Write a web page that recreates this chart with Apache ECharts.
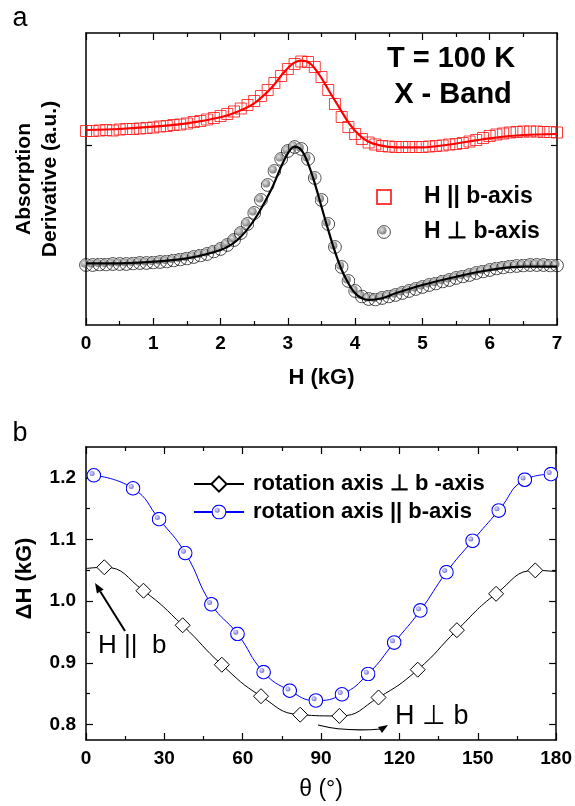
<!doctype html>
<html>
<head>
<meta charset="UTF-8">
<title>ESR spectra and linewidth</title>
<script src="https://cdn.jsdelivr.net/npm/echarts@6/dist/echarts.min.js"></script>
<style>
html, body { margin: 0; padding: 0; background: #fff; }
#main { width: 575px; height: 806px; }
</style>
</head>
<body>
<div id="main"></div>
<script>
// panel a: field (kG) and signal in arbitrary units
var hField = [0,0.1,0.2,0.3,0.4,0.5,0.6,0.7,0.8,0.9,
    1,1.1,1.2,1.3,1.4,1.5,1.6,1.7,1.8,1.9,
    2,2.1,2.2,2.3,2.4,2.5,2.6,2.7,2.8,2.9,
    3,3.1,3.2,3.3,3.4,3.5,3.6,3.7,3.8,3.9,
    4,4.1,4.2,4.3,4.4,4.5,4.6,4.7,4.8,4.9,
    5,5.1,5.2,5.3,5.4,5.5,5.6,5.7,5.8,5.9,
    6,6.1,6.2,6.3,6.4,6.5,6.6,6.7,6.8,6.9,
    7];
var paraSignal = [194,194,194.5,195,194.5,195.5,196,196,196.5,197,
    197.5,198.5,199,200,200.5,201.5,203,204,205.5,207,
    209,211,213.5,216.5,220,224,229,235,242,249,
    256,261,263.5,263,258,248,235,221,208,198,
    191,186,182.5,180.5,179,178.5,178,178,178,178,
    178,178.5,179,179.5,180.5,181,182,183.5,185,187,
    189,190.5,191.5,192.5,193,193.5,193.5,193.5,193,193,
    192.5];
var perpSignal = [60,60,60.5,60.5,61,61,61,61.5,62,62,
    62.5,63,63.5,64.5,65.5,66.5,68,69.5,71,73.5,
    76,80,85,92,101,112,125,140,154,166,
    174,178,176,166,147,125,101,78,58,44,
    34,28.5,26,25.5,27,28.5,30,32,34,36,
    38,40,41.5,43.5,45,47,48.5,50,52,53.5,
    55,56.5,57.5,58.5,59,59.5,60,60,60,59.5,
    59.5];

// fitted curves of panel a
var paraFitH = [0,0.5,1,1.5,2,2.25,2.5,2.75,2.93,3.08,3.2,3.33,3.47,3.62,3.77,3.91,4.06,4.2,4.35,4.6,5,5.35,6,6.5,7];
var paraFit = [195,196,198.3,201.7,207.7,213.3,221.7,236.7,251.7,261.7,264.3,261.7,250,233.3,216.7,201.7,190,183.3,180,177.7,177.7,180,186.7,190,191];
var perpFitH = [0,0.5,1,1.5,2,2.25,2.5,2.75,2.9,3,3.1,3.2,3.3,3.4,3.5,3.6,3.7,3.8,3.9,4,4.1,4.2,4.4,4.6,5,5.5,6,6.5,7];
var perpFit = [61.7,61.7,63.3,66.7,75,85,105,135,158.3,171.7,178.3,175,161.7,141.7,118.3,95,73.3,55,41.7,31.7,26.7,25,26.7,31.7,40,48.3,55,58.3,58.3];

// panel b: angular dependence of linewidth
var perpTheta = [7,22,37,52,67,82,97,112,127,142,157,172];
var perpWidth = [1.055,1.017,0.961,0.897,0.846,0.816,0.814,0.844,0.889,0.953,1.012,1.050];
var perpEdgeTheta = [0,180];
var perpEdgeWidth = [1.053,1.048];
var paraTheta = [3,18,28,38,48,58,68,78,88,98,108,118,128,138,148,158,168,178];
var paraWidth = [1.204,1.183,1.133,1.078,0.995,0.947,0.885,0.855,0.839,0.849,0.882,0.933,0.985,1.047,1.098,1.147,1.197,1.206];

var widthTicks = [0.8,0.9,1.0,1.1,1.2];
var widthMinorTicks = [0.85,0.95,1.05,1.15];
var signalTicks = [180];

function zip(xs, ys) {
    return xs.map(function (x, i) { return [x, ys[i]]; });
}

function svgUrl(svg) {
    return 'image://data:image/svg+xml;charset=utf-8,' + encodeURIComponent(svg);
}

var grayBall = svgUrl('<svg xmlns="http://www.w3.org/2000/svg" width="28" height="28" viewBox="0 0 28 28">' +
    '<defs><radialGradient id="g" cx="40%" cy="40%" r="60%"><stop offset="0" stop-color="#dcdcdc"/><stop offset="1" stop-color="#5e5e5e"/></radialGradient></defs>' +
    '<circle cx="14" cy="14" r="12.8" fill="none" stroke="#000" stroke-width="1.8"/>' +
    '<circle cx="11" cy="11" r="8" fill="url(#g)"/></svg>');
var blueBall = svgUrl('<svg xmlns="http://www.w3.org/2000/svg" width="30" height="30" viewBox="0 0 30 30">' +
    '<defs><radialGradient id="b" cx="40%" cy="40%" r="60%"><stop offset="0" stop-color="#e0e0ff"/><stop offset="1" stop-color="#7474d8"/></radialGradient></defs>' +
    '<circle cx="15" cy="15" r="13.6" fill="#fff" stroke="#0000ff" stroke-width="2.2"/>' +
    '<circle cx="11.5" cy="11.5" r="5" fill="url(#b)"/></svg>');

var FONT = '"Liberation Sans", Arial, sans-serif';
var black = '#000';

function frameAxis(extra) {
    var base = {
        type: 'value',
        axisLine: { onZero: false, lineStyle: { color: black, width: 1.5 } },
        axisTick: { inside: true, length: 7, lineStyle: { color: black, width: 1.2 } },
        minorTick: { show: true, splitNumber: 2, length: 4, lineStyle: { color: black, width: 1.2 } },
        splitLine: { show: false },
        axisLabel: { show: false }
    };
    return Object.assign(base, extra);
}

var tickLabel = { show: true, color: black, fontSize: 19, fontWeight: 'bold', fontFamily: FONT };

var myChart = echarts.init(document.getElementById('main'));

var option = {
    animation: false,
    backgroundColor: '#fff',
    textStyle: { fontFamily: FONT },
    grid: [
        { left: 86, top: 33, width: 471, height: 292 },
        { left: 86, top: 447, width: 471, height: 293 }
    ],
    xAxis: [
        frameAxis({
            gridIndex: 0, position: 'bottom', min: 0, max: 7, interval: 1,
            axisLabel: Object.assign({ margin: 9 }, tickLabel),
            name: 'H (kG)', nameLocation: 'middle', nameGap: 42,
            nameTextStyle: { color: black, fontSize: 22, fontWeight: 'bold', fontFamily: FONT }
        }),
        frameAxis({ gridIndex: 0, position: 'top', min: 0, max: 7, interval: 1 }),
        frameAxis({
            gridIndex: 1, position: 'bottom', min: 0, max: 180, interval: 30,
            axisLabel: Object.assign({ margin: 9 }, tickLabel),
            name: 'θ (°)', nameLocation: 'middle', nameGap: 38,
            nameTextStyle: { color: black, fontSize: 23, fontFamily: FONT }
        }),
        frameAxis({ gridIndex: 1, position: 'top', min: 0, max: 180, interval: 30 })
    ],
    yAxis: [
        frameAxis({
            gridIndex: 0, position: 'left', min: 0, max: 292,
            axisTick: { inside: true, length: 6, customValues: signalTicks, lineStyle: { color: black, width: 1.2 } },
            minorTick: { show: false },
            name: 'Absorption\nDerivative (a.u.)', nameLocation: 'middle', nameRotate: 90, nameGap: 23,
            nameTextStyle: { color: black, fontSize: 21, fontWeight: 'bold', lineHeight: 26, fontFamily: FONT }
        }),
        frameAxis({
            gridIndex: 0, position: 'right', min: 0, max: 292,
            axisTick: { inside: true, length: 6, customValues: signalTicks, lineStyle: { color: black, width: 1.2 } },
            minorTick: { show: false }
        }),
        frameAxis({
            gridIndex: 1, position: 'left', min: 0.775, max: 1.25,
            axisTick: { inside: true, length: 7, customValues: widthTicks, lineStyle: { color: black, width: 1.2 } },
            minorTick: { show: false },
            axisLabel: Object.assign({ margin: 10, customValues: widthTicks, formatter: function (v) { return v.toFixed(1); } }, tickLabel),
            name: 'ΔH (kG)', nameLocation: 'middle', nameRotate: 90, nameGap: 49,
            nameTextStyle: { color: black, fontSize: 22, fontWeight: 'bold', lineHeight: 24, padding: [0, 0, 0, 30], fontFamily: FONT }
        }),
        frameAxis({
            gridIndex: 1, position: 'left', min: 0.775, max: 1.25,
            axisLine: { show: false, onZero: false },
            axisTick: { inside: true, length: 4, customValues: widthMinorTicks, lineStyle: { color: black, width: 1.2 } },
            minorTick: { show: false }
        }),
        frameAxis({
            gridIndex: 1, position: 'right', min: 0.775, max: 1.25,
            axisTick: { inside: true, length: 7, customValues: widthTicks, lineStyle: { color: black, width: 1.2 } },
            minorTick: { show: false }
        }),
        frameAxis({
            gridIndex: 1, position: 'right', min: 0.775, max: 1.25,
            axisLine: { show: false, onZero: false },
            axisTick: { inside: true, length: 4, customValues: widthMinorTicks, lineStyle: { color: black, width: 1.2 } },
            minorTick: { show: false }
        })
    ],
    legend: [
        {
            data: ['H || b-axis', 'H ⊥ b-axis'],
            orient: 'vertical', left: 371, top: 180,
            itemWidth: 14, itemHeight: 14, itemGap: 11,
            selectedMode: false,
            textStyle: { color: black, fontSize: 23, fontWeight: 'bold', lineHeight: 24, padding: [0, 0, 0, 28], fontFamily: FONT }
        },
        {
            data: ['rotation axis ⊥ b -axis', 'rotation axis || b-axis'],
            orient: 'vertical', left: 188, top: 467,
            itemWidth: 50, itemHeight: 19, itemGap: 4,
            selectedMode: false,
            textStyle: { color: black, fontSize: 22, fontWeight: 'bold', lineHeight: 24, padding: [0, 0, 0, 4], fontFamily: FONT }
        }
    ],
    series: [
        {
            name: 'H || b-axis', type: 'scatter', xAxisIndex: 0, yAxisIndex: 0,
            data: zip(hField, paraSignal),
            symbol: 'rect', symbolSize: 11,
            itemStyle: { color: 'rgba(255,255,255,0)', borderColor: '#ff1010', borderWidth: 1 },
            z: 2
        },
        {
            name: 'H || b fit', type: 'line', xAxisIndex: 0, yAxisIndex: 0,
            data: zip(paraFitH, paraFit), smooth: 0.35, showSymbol: false, symbol: 'none',
            lineStyle: { color: '#ff0000', width: 2.2 }, itemStyle: { color: '#ff0000' },
            z: 3
        },
        {
            name: 'H ⊥ b-axis', type: 'scatter', xAxisIndex: 0, yAxisIndex: 0,
            data: zip(hField, perpSignal),
            symbol: grayBall, symbolSize: 14,
            itemStyle: { color: '#888' },
            z: 2
        },
        {
            name: 'H ⊥ b fit', type: 'line', xAxisIndex: 0, yAxisIndex: 0,
            data: zip(perpFitH, perpFit), smooth: 0.35, showSymbol: false, symbol: 'none',
            lineStyle: { color: black, width: 2.2 }, itemStyle: { color: black },
            z: 3
        },
        {
            name: 'rotation axis ⊥ b -axis', type: 'line', xAxisIndex: 2, yAxisIndex: 2,
            data: [{ value: [perpEdgeTheta[0], perpEdgeWidth[0]], symbol: 'none' }]
                .concat(zip(perpTheta, perpWidth))
                .concat([{ value: [perpEdgeTheta[1], perpEdgeWidth[1]], symbol: 'none' }]),
            smooth: true, symbol: 'diamond', symbolSize: 15, showAllSymbol: true,
            lineStyle: { color: black, width: 1 },
            itemStyle: { color: '#fff', borderColor: black, borderWidth: 1 },
            z: 3
        },
        {
            name: 'rotation axis || b-axis', type: 'line', xAxisIndex: 2, yAxisIndex: 2,
            data: zip(paraTheta, paraWidth),
            smooth: true, symbol: blueBall, symbolSize: 15, showAllSymbol: true,
            lineStyle: { color: '#0000ff', width: 1 },
            itemStyle: { color: '#0000ff' },
            z: 4
        }
    ],
    graphic: [
        { type: 'text', x: 20, y: 19, style: { text: 'a', fontSize: 27, fontFamily: FONT, fill: black, textAlign: 'center', textVerticalAlign: 'middle' } },
        { type: 'text', x: 20, y: 434, style: { text: 'b', fontSize: 27, fontFamily: FONT, fill: black, textAlign: 'center', textVerticalAlign: 'middle' } },
        { type: 'text', x: 451, y: 59, style: { text: 'T = 100 K', fontSize: 29, fontWeight: 'bold', fontFamily: FONT, fill: black, textAlign: 'center', textVerticalAlign: 'middle' } },
        { type: 'text', x: 453, y: 95, style: { text: 'X - Band', fontSize: 29, fontWeight: 'bold', fontFamily: FONT, fill: black, textAlign: 'center', textVerticalAlign: 'middle' } },
        { type: 'text', x: 98, y: 646, style: { text: 'H ||  b', fontSize: 26, fontFamily: FONT, fill: black, textAlign: 'left', textVerticalAlign: 'middle' } },
        { type: 'text', x: 395, y: 717, style: { text: 'H ⊥ b', fontSize: 27, fontFamily: FONT, fill: black, textAlign: 'left', textVerticalAlign: 'middle' } },
        { type: 'line', shape: { x1: 125, y1: 631, x2: 100.3, y2: 591.5 }, style: { stroke: black, lineWidth: 2 } },
        { type: 'polygon', shape: { points: [[95, 583], [103.7, 589.4], [96.9, 593.6]] }, style: { fill: black } },
        { type: 'bezierCurve', shape: { x1: 318, y1: 725, cpx1: 345, cpy1: 732, x2: 381, y2: 729 }, style: { stroke: black, lineWidth: 1.2, fill: null } },
        { type: 'polygon', shape: { points: [[388, 725], [378, 727], [382, 733]] }, style: { fill: black } }
    ]
};

myChart.setOption(option);
</script>
</body>
</html>
